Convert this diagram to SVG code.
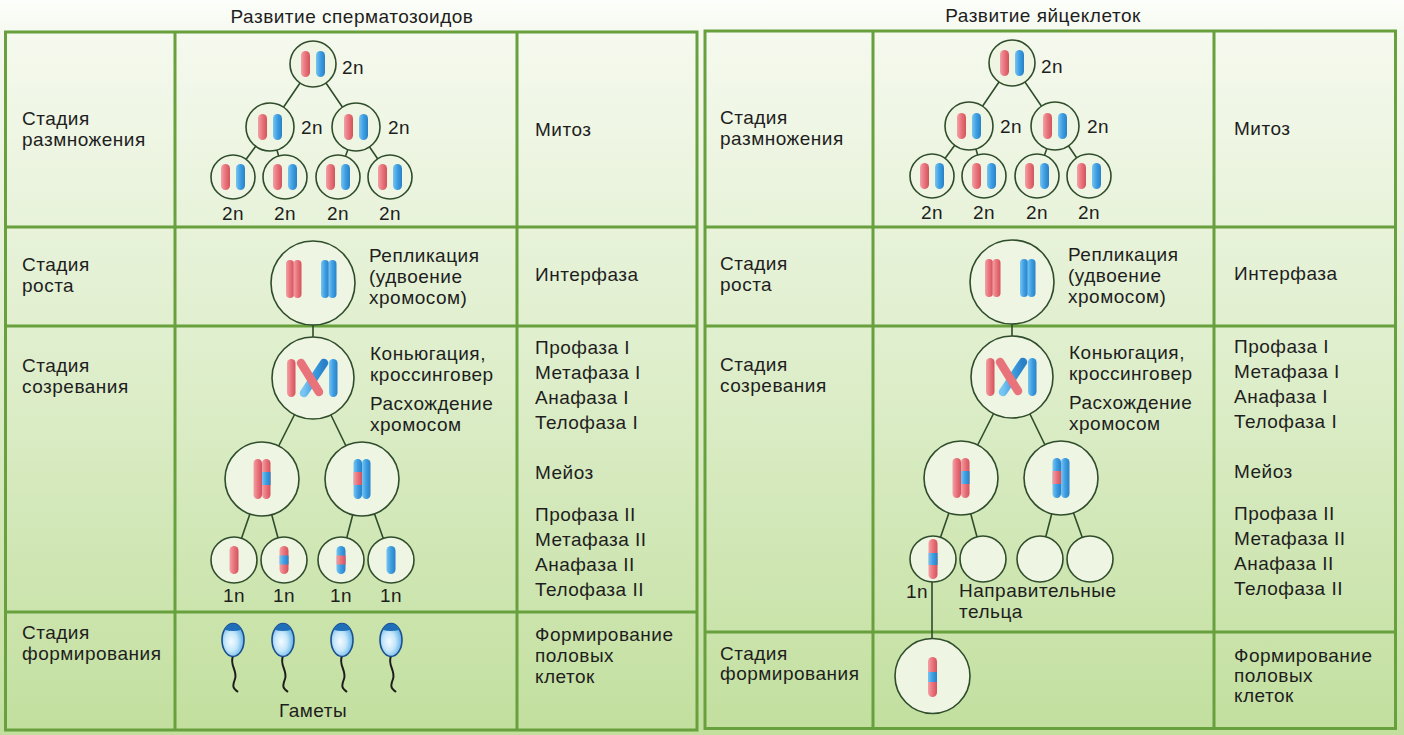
<svg xmlns="http://www.w3.org/2000/svg" width="1404" height="735" viewBox="0 0 1404 735">
<defs>
<linearGradient id="bg" gradientUnits="userSpaceOnUse" x1="0" y1="0" x2="0" y2="735">
<stop offset="0" stop-color="#fdfefb"/>
<stop offset="0.05" stop-color="#f5f9ee"/>
<stop offset="0.5" stop-color="#deeecb"/>
<stop offset="1" stop-color="#c2df9e"/>
</linearGradient>
<linearGradient id="gr" x1="0" y1="0" x2="1" y2="0">
<stop offset="0" stop-color="#f3a0a5"/>
<stop offset="0.5" stop-color="#e8737b"/>
<stop offset="1" stop-color="#d4525c"/>
</linearGradient>
<linearGradient id="gb" x1="0" y1="0" x2="1" y2="0">
<stop offset="0" stop-color="#78c4f2"/>
<stop offset="0.5" stop-color="#3d9ee1"/>
<stop offset="1" stop-color="#2a80c6"/>
</linearGradient>
<radialGradient id="head" cx="0.42" cy="0.55" r="0.62">
<stop offset="0" stop-color="#f4fbff"/>
<stop offset="0.45" stop-color="#c6e7fa"/>
<stop offset="1" stop-color="#4fa8e3"/>
</radialGradient>
<g id="sperm">
<path d="M0,656 C-4,665 5,671 2,679 S0,688 5,692" fill="none" stroke="#1c1c1c" stroke-width="2"/>
<ellipse cx="0" cy="640" rx="11" ry="16.5" fill="url(#head)" stroke="#1b4f8f" stroke-width="1.6"/>
<path d="M-8.6,629.7 A11,16.5 0 0 1 8.6,629.7 Q0,632.5 -8.6,629.7 Z" fill="#1f6fb8"/>
</g>
</defs>
<style>
.grid{fill:none;stroke:#67a03c;stroke-width:3}
.cell{fill:#eef5e3;stroke:#2f4d2b;stroke-width:1.6}
.ln{stroke:#2f4d2b;stroke-width:1.6;fill:none}
.r{fill:url(#gr)}
.b{fill:url(#gb)}
.t{font-family:"Liberation Sans",Arial,sans-serif;font-size:19px;letter-spacing:0.5px;fill:#1e1e1e}
.m{text-anchor:middle}
</style>
<rect x="0" y="0" width="1404" height="735" fill="url(#bg)"/>

<g id="titles">
<text class="t m" x="352" y="23">Развитие сперматозоидов</text>
<text class="t m" x="1043" y="22">Развитие яйцеклеток</text>
</g>

<g id="table-left">
<rect class="grid" x="5.5" y="32" width="691.5" height="698"/>
<path class="grid" d="M175,32V730M517,32V730M5.5,227H697M5.5,326H697M5.5,612H697"/>
</g>
<g id="table-right">
<rect class="grid" x="705" y="31" width="690.5" height="697.5"/>
<path class="grid" d="M873,31V728.5M1214,31V728.5M705,227H1395.5M705,326H1395.5M705,632H1395.5"/>
</g>

<g id="labels-left">
<text class="t" x="22" y="125">Стадия</text>
<text class="t" x="22" y="146">размножения</text>
<text class="t" x="22" y="271">Стадия</text>
<text class="t" x="22" y="292">роста</text>
<text class="t" x="22" y="372">Стадия</text>
<text class="t" x="22" y="393">созревания</text>
<text class="t" x="22" y="639">Стадия</text>
<text class="t" x="22" y="660">формирования</text>
<text class="t" x="535" y="136">Митоз</text>
<text class="t" x="535" y="281">Интерфаза</text>
<text class="t" x="535" y="354">Профаза I</text>
<text class="t" x="535" y="379">Метафаза I</text>
<text class="t" x="535" y="404">Анафаза I</text>
<text class="t" x="535" y="429">Телофаза I</text>
<text class="t" x="535" y="479">Мейоз</text>
<text class="t" x="535" y="521">Профаза II</text>
<text class="t" x="535" y="546">Метафаза II</text>
<text class="t" x="535" y="571">Анафаза II</text>
<text class="t" x="535" y="596">Телофаза II</text>
<text class="t" x="535" y="641">Формирование</text>
<text class="t" x="535" y="662">половых</text>
<text class="t" x="535" y="683">клеток</text>
</g>
<g id="labels-right">
<text class="t" x="720" y="124">Стадия</text>
<text class="t" x="720" y="145">размножения</text>
<text class="t" x="720" y="270">Стадия</text>
<text class="t" x="720" y="291">роста</text>
<text class="t" x="720" y="371">Стадия</text>
<text class="t" x="720" y="392">созревания</text>
<text class="t" x="720" y="660">Стадия</text>
<text class="t" x="720" y="680">формирования</text>
<text class="t" x="1234" y="135">Митоз</text>
<text class="t" x="1234" y="280">Интерфаза</text>
<text class="t" x="1234" y="353">Профаза I</text>
<text class="t" x="1234" y="378">Метафаза I</text>
<text class="t" x="1234" y="403">Анафаза I</text>
<text class="t" x="1234" y="428">Телофаза I</text>
<text class="t" x="1234" y="478">Мейоз</text>
<text class="t" x="1234" y="520">Профаза II</text>
<text class="t" x="1234" y="545">Метафаза II</text>
<text class="t" x="1234" y="570">Анафаза II</text>
<text class="t" x="1234" y="595">Телофаза II</text>
<text class="t" x="1234" y="662">Формирование</text>
<text class="t" x="1234" y="682">половых</text>
<text class="t" x="1234" y="702">клеток</text>
</g>

<g id="connectors-left">
<path class="ln" d="M313,64L270,127M313,64L356,127M270,127L233,177M270,127L285,177M356,127L338,177M356,127L390,177"/>
<path class="ln" d="M313,283V378M313,378L262,479M313,378L362,479M262,479L234,560M262,479L284,560M362,479L341,560M362,479L391,560"/>
</g>
<g id="connectors-right" transform="translate(699,-1)">
<path class="ln" d="M313,64L270,127M313,64L356,127M270,127L233,177M270,127L285,177M356,127L338,177M356,127L390,177"/>
<path class="ln" d="M313,283V378M313,378L262,479M313,378L362,479M262,479L234,560M262,479L284,560M362,479L341,560M362,479L391,560M233,560V677"/>
</g>

<g id="L-mitosis-top"><circle class="cell" cx="313" cy="64" r="23"/><rect class="r" x="301" y="51" width="9" height="26" rx="4.5"/><rect class="b" x="316" y="51" width="9" height="26" rx="4.5"/><text class="t" x="342" y="74">2n</text></g>
<g id="L-mitosis-2a"><circle class="cell" cx="270" cy="127" r="24"/><rect class="r" x="258" y="114" width="9" height="26" rx="4.5"/><rect class="b" x="273" y="114" width="9" height="26" rx="4.5"/><text class="t" x="301" y="134">2n</text></g>
<g id="L-mitosis-2b"><circle class="cell" cx="356" cy="127" r="24"/><rect class="r" x="344" y="114" width="9" height="26" rx="4.5"/><rect class="b" x="359" y="114" width="9" height="26" rx="4.5"/><text class="t" x="388" y="134">2n</text></g>
<g id="L-mitosis-3a"><circle class="cell" cx="233" cy="177" r="22"/><rect class="r" x="221" y="164" width="9" height="26" rx="4.5"/><rect class="b" x="236" y="164" width="9" height="26" rx="4.5"/><text class="t m" x="233" y="220">2n</text></g>
<g id="L-mitosis-3b"><circle class="cell" cx="285" cy="177" r="22"/><rect class="r" x="273" y="164" width="9" height="26" rx="4.5"/><rect class="b" x="288" y="164" width="9" height="26" rx="4.5"/><text class="t m" x="285" y="220">2n</text></g>
<g id="L-mitosis-3c"><circle class="cell" cx="338" cy="177" r="22"/><rect class="r" x="326" y="164" width="9" height="26" rx="4.5"/><rect class="b" x="341" y="164" width="9" height="26" rx="4.5"/><text class="t m" x="338" y="220">2n</text></g>
<g id="L-mitosis-3d"><circle class="cell" cx="390" cy="177" r="22"/><rect class="r" x="378" y="164" width="9" height="26" rx="4.5"/><rect class="b" x="393" y="164" width="9" height="26" rx="4.5"/><text class="t m" x="390" y="220">2n</text></g>

<g id="L-growth"><circle class="cell" cx="313" cy="283" r="42"/><rect class="r" x="286" y="260" width="8" height="38" rx="4"/><rect class="r" x="293.5" y="260" width="8" height="38" rx="4"/><rect class="b" x="321" y="260" width="8" height="38" rx="4"/><rect class="b" x="328.5" y="260" width="8" height="38" rx="4"/>
<text class="t" x="369" y="262">Репликация</text><text class="t" x="369" y="283">(удвоение</text><text class="t" x="369" y="304">хромосом)</text></g>

<g id="L-meiosis-1"><circle class="cell" cx="313" cy="378" r="41"/><rect class="r" x="287" y="359" width="8.5" height="38" rx="4.2"/><rect class="b" x="329" y="359" width="8.5" height="38" rx="4.2"/>
<path d="M324,363L304,393" stroke="url(#gb)" stroke-width="8.5" stroke-linecap="round"/><path d="M301,363L319,392" stroke="#e8737b" stroke-width="8.5" stroke-linecap="round"/>
<text class="t" x="370" y="359.5">Коньюгация,</text><text class="t" x="370" y="381">кроссинговер</text><text class="t" x="370" y="410">Расхождение</text><text class="t" x="370" y="430.5">хромосом</text></g>
<g id="L-meiosis-2a"><circle class="cell" cx="262" cy="479" r="37"/><rect class="r" x="253.5" y="459" width="8.5" height="40" rx="4.2"/><rect class="r" x="262" y="459" width="8.5" height="40" rx="4.2"/><rect class="b" x="262" y="472" width="8.5" height="13"/></g>
<g id="L-meiosis-2b"><circle class="cell" cx="362" cy="479" r="37"/><rect class="b" x="353.5" y="459" width="8.5" height="40" rx="4.2"/><rect class="b" x="362" y="459" width="8.5" height="40" rx="4.2"/><rect class="r" x="353.5" y="472" width="8.5" height="13"/></g>
<g id="L-gamete-1"><circle class="cell" cx="234" cy="560" r="23"/><rect class="r" x="229.5" y="546" width="9" height="28" rx="4.5"/><text class="t m" x="234" y="602">1n</text></g>
<g id="L-gamete-2"><circle class="cell" cx="284" cy="560" r="23"/><rect class="r" x="279.5" y="546" width="9" height="28" rx="4.5"/><rect class="b" x="279.5" y="555.5" width="9" height="9"/><text class="t m" x="284" y="602">1n</text></g>
<g id="L-gamete-3"><circle class="cell" cx="341" cy="560" r="23"/><rect class="b" x="336.5" y="546" width="9" height="28" rx="4.5"/><rect class="r" x="336.5" y="555.5" width="9" height="9"/><text class="t m" x="341" y="602">1n</text></g>
<g id="L-gamete-4"><circle class="cell" cx="391" cy="560" r="23"/><rect class="b" x="386.5" y="546" width="9" height="28" rx="4.5"/><text class="t m" x="391" y="602">1n</text></g>

<g id="L-sperm">
<use href="#sperm" x="233"/><use href="#sperm" x="283"/><use href="#sperm" x="342"/><use href="#sperm" x="391"/>
<text class="t m" x="313" y="717">Гаметы</text>
</g>

<g id="R-mitosis-top" transform="translate(699,-1)"><circle class="cell" cx="313" cy="64" r="23"/><rect class="r" x="301" y="51" width="9" height="26" rx="4.5"/><rect class="b" x="316" y="51" width="9" height="26" rx="4.5"/><text class="t" x="342" y="74">2n</text></g>
<g id="R-mitosis-2a" transform="translate(699,-1)"><circle class="cell" cx="270" cy="127" r="24"/><rect class="r" x="258" y="114" width="9" height="26" rx="4.5"/><rect class="b" x="273" y="114" width="9" height="26" rx="4.5"/><text class="t" x="301" y="134">2n</text></g>
<g id="R-mitosis-2b" transform="translate(699,-1)"><circle class="cell" cx="356" cy="127" r="24"/><rect class="r" x="344" y="114" width="9" height="26" rx="4.5"/><rect class="b" x="359" y="114" width="9" height="26" rx="4.5"/><text class="t" x="388" y="134">2n</text></g>
<g id="R-mitosis-3a" transform="translate(699,-1)"><circle class="cell" cx="233" cy="177" r="22"/><rect class="r" x="221" y="164" width="9" height="26" rx="4.5"/><rect class="b" x="236" y="164" width="9" height="26" rx="4.5"/><text class="t m" x="233" y="220">2n</text></g>
<g id="R-mitosis-3b" transform="translate(699,-1)"><circle class="cell" cx="285" cy="177" r="22"/><rect class="r" x="273" y="164" width="9" height="26" rx="4.5"/><rect class="b" x="288" y="164" width="9" height="26" rx="4.5"/><text class="t m" x="285" y="220">2n</text></g>
<g id="R-mitosis-3c" transform="translate(699,-1)"><circle class="cell" cx="338" cy="177" r="22"/><rect class="r" x="326" y="164" width="9" height="26" rx="4.5"/><rect class="b" x="341" y="164" width="9" height="26" rx="4.5"/><text class="t m" x="338" y="220">2n</text></g>
<g id="R-mitosis-3d" transform="translate(699,-1)"><circle class="cell" cx="390" cy="177" r="22"/><rect class="r" x="378" y="164" width="9" height="26" rx="4.5"/><rect class="b" x="393" y="164" width="9" height="26" rx="4.5"/><text class="t m" x="390" y="220">2n</text></g>

<g id="R-growth" transform="translate(699,-1)"><circle class="cell" cx="313" cy="283" r="42"/><rect class="r" x="286" y="260" width="8" height="38" rx="4"/><rect class="r" x="293.5" y="260" width="8" height="38" rx="4"/><rect class="b" x="321" y="260" width="8" height="38" rx="4"/><rect class="b" x="328.5" y="260" width="8" height="38" rx="4"/>
<text class="t" x="369" y="262">Репликация</text><text class="t" x="369" y="283">(удвоение</text><text class="t" x="369" y="304">хромосом)</text></g>

<g id="R-meiosis-1" transform="translate(699,-1)"><circle class="cell" cx="313" cy="378" r="41"/><rect class="r" x="287" y="359" width="8.5" height="38" rx="4.2"/><rect class="b" x="329" y="359" width="8.5" height="38" rx="4.2"/>
<path d="M324,363L304,393" stroke="url(#gb)" stroke-width="8.5" stroke-linecap="round"/><path d="M301,363L319,392" stroke="#e8737b" stroke-width="8.5" stroke-linecap="round"/>
<text class="t" x="370" y="359.5">Коньюгация,</text><text class="t" x="370" y="381">кроссинговер</text><text class="t" x="370" y="410">Расхождение</text><text class="t" x="370" y="430.5">хромосом</text></g>
<g id="R-meiosis-2a" transform="translate(699,-1)"><circle class="cell" cx="262" cy="479" r="37"/><rect class="r" x="253.5" y="459" width="8.5" height="40" rx="4.2"/><rect class="r" x="262" y="459" width="8.5" height="40" rx="4.2"/><rect class="b" x="262" y="472" width="8.5" height="13"/></g>
<g id="R-meiosis-2b" transform="translate(699,-1)"><circle class="cell" cx="362" cy="479" r="37"/><rect class="b" x="353.5" y="459" width="8.5" height="40" rx="4.2"/><rect class="b" x="362" y="459" width="8.5" height="40" rx="4.2"/><rect class="r" x="353.5" y="472" width="8.5" height="13"/></g>
<g id="R-egg-1n" transform="translate(699,-1)"><circle class="cell" cx="234" cy="560" r="23"/><rect class="r" x="229.5" y="540" width="9" height="40" rx="4.5"/><rect class="b" x="229.5" y="554" width="9" height="12"/><text class="t m" x="218" y="599">1n</text></g>
<g id="R-polar-1" transform="translate(699,-1)"><circle class="cell" cx="284" cy="560" r="23"/></g>
<g id="R-polar-2" transform="translate(699,-1)"><circle class="cell" cx="341" cy="560" r="23"/></g>
<g id="R-polar-3" transform="translate(699,-1)"><circle class="cell" cx="391" cy="560" r="23"/></g>
<g id="R-polar-label" transform="translate(699,-1)"><text class="t" x="260" y="598">Направительные</text><text class="t" x="260" y="619">тельца</text></g>
<g id="R-egg" transform="translate(699,-1)"><circle class="cell" cx="233.5" cy="677" r="37.5"/><rect class="r" x="229" y="658" width="9" height="40" rx="4.5"/><rect class="b" x="229" y="673" width="9" height="10"/></g>
</svg>
